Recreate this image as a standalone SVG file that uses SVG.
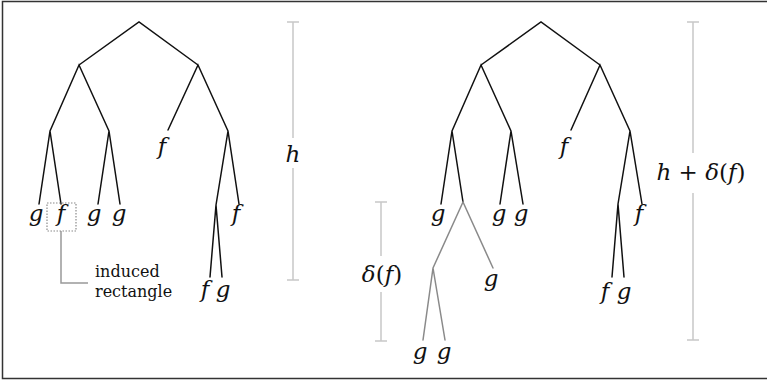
<svg xmlns="http://www.w3.org/2000/svg" width="767" height="381" viewBox="0 0 767 381">
<style>
.e{stroke:#111;stroke-width:1.5;fill:none;stroke-linecap:round}
.eg{stroke:#8a8a8a;stroke-width:1.5;fill:none;stroke-linecap:round}
.bar{stroke:#c8c8c8;stroke-width:1.5;fill:none}
.m{font-family:'DejaVu Serif',serif;font-style:italic;font-size:23px;fill:#111;text-anchor:middle}
.r{font-style:normal}
.t{font-family:'DejaVu Serif',serif;font-size:16px;fill:#111}
</style>
<rect x="2.5" y="1.5" width="780" height="377" fill="#fff" stroke="#333" stroke-width="1.5"/>
<g id="connectors">
<path class="e" d="M79,65 L139,22 L198,65 M50,131 L79,65 L109,131 M168,130 L198,65 L228,131 M39,204 L50,131 L61,204 M98,204 L109,131 L120,204 M216,205 L228,131 L239,204 M210,277 L216,205 L222,277"/>
<path class="e" d="M481,65 L541,22 L600,65 M452,131 L481,65 L511,131 M571,130 L600,65 L630,131 M441,204 L452,131 L463,202 M500,204 L511,131 L523,204 M618,204 L630,131 L642,204 M612,277 L618,204 L624,277"/>
<path class="eg" d="M433,268 L463,202 L493,268 M423,340 L433,268 L445,340"/>
<path d="M61,231 L61,283 L88,283" stroke="#999" stroke-width="1.5" fill="none"/>
</g>
<g id="left-tree-labels">
<g id="L-g1"><text class="m" x="36" y="221">g</text></g>
<g id="L-f1"><rect x="47" y="203" width="29" height="28" fill="none" stroke="#8a8a8a" stroke-width="1.2" stroke-dasharray="1.5 1.5"/><text class="m" x="61" y="221">f</text></g>
<g id="L-g2"><text class="m" x="94" y="221">g</text></g>
<g id="L-g3"><text class="m" x="119" y="221">g</text></g>
<g id="L-f2"><text class="m" x="162" y="154">f</text></g>
<g id="L-f3"><text class="m" x="236" y="221">f</text></g>
<g id="L-f4"><text class="m" x="205" y="297">f</text></g>
<g id="L-g4"><text class="m" x="223" y="297">g</text></g>
<g id="induced"><text class="t" x="95" y="277">induced</text><text class="t" x="95" y="297">rectangle</text></g>
</g>
<g id="right-tree-labels">
<g id="R-g1"><text class="m" x="438" y="221">g</text></g>
<g id="R-g2"><text class="m" x="499" y="221">g</text></g>
<g id="R-g3"><text class="m" x="521" y="221">g</text></g>
<g id="R-f2"><text class="m" x="564" y="154">f</text></g>
<g id="R-f3"><text class="m" x="639" y="221">f</text></g>
<g id="R-f4"><text class="m" x="605" y="299">f</text></g>
<g id="R-g4"><text class="m" x="624" y="299">g</text></g>
<g id="R-g5"><text class="m" x="491" y="286">g</text></g>
<g id="R-g6"><text class="m" x="420" y="359">g</text></g>
<g id="R-g7"><text class="m" x="444" y="359">g</text></g>
</g>
<g id="bar-h">
<path class="bar" d="M293,22 V138 M293,168 V280 M287,22 H299 M287,280 H299"/>
<text class="m" x="293" y="162">h</text>
</g>
<g id="bar-hd">
<path class="bar" d="M693,22 V153 M693,193 V340 M687,22 H699 M687,340 H699"/>
<text class="m" x="701" y="180">h<tspan class="r"> + </tspan>δ<tspan class="r">(</tspan>f<tspan class="r">)</tspan></text>
</g>
<g id="bar-d">
<path class="bar" d="M381,202 V256 M381,292 V341 M375,202 H387 M375,341 H387"/>
<text class="m" x="382" y="282">δ<tspan class="r">(</tspan>f<tspan class="r">)</tspan></text>
</g>
</svg>
